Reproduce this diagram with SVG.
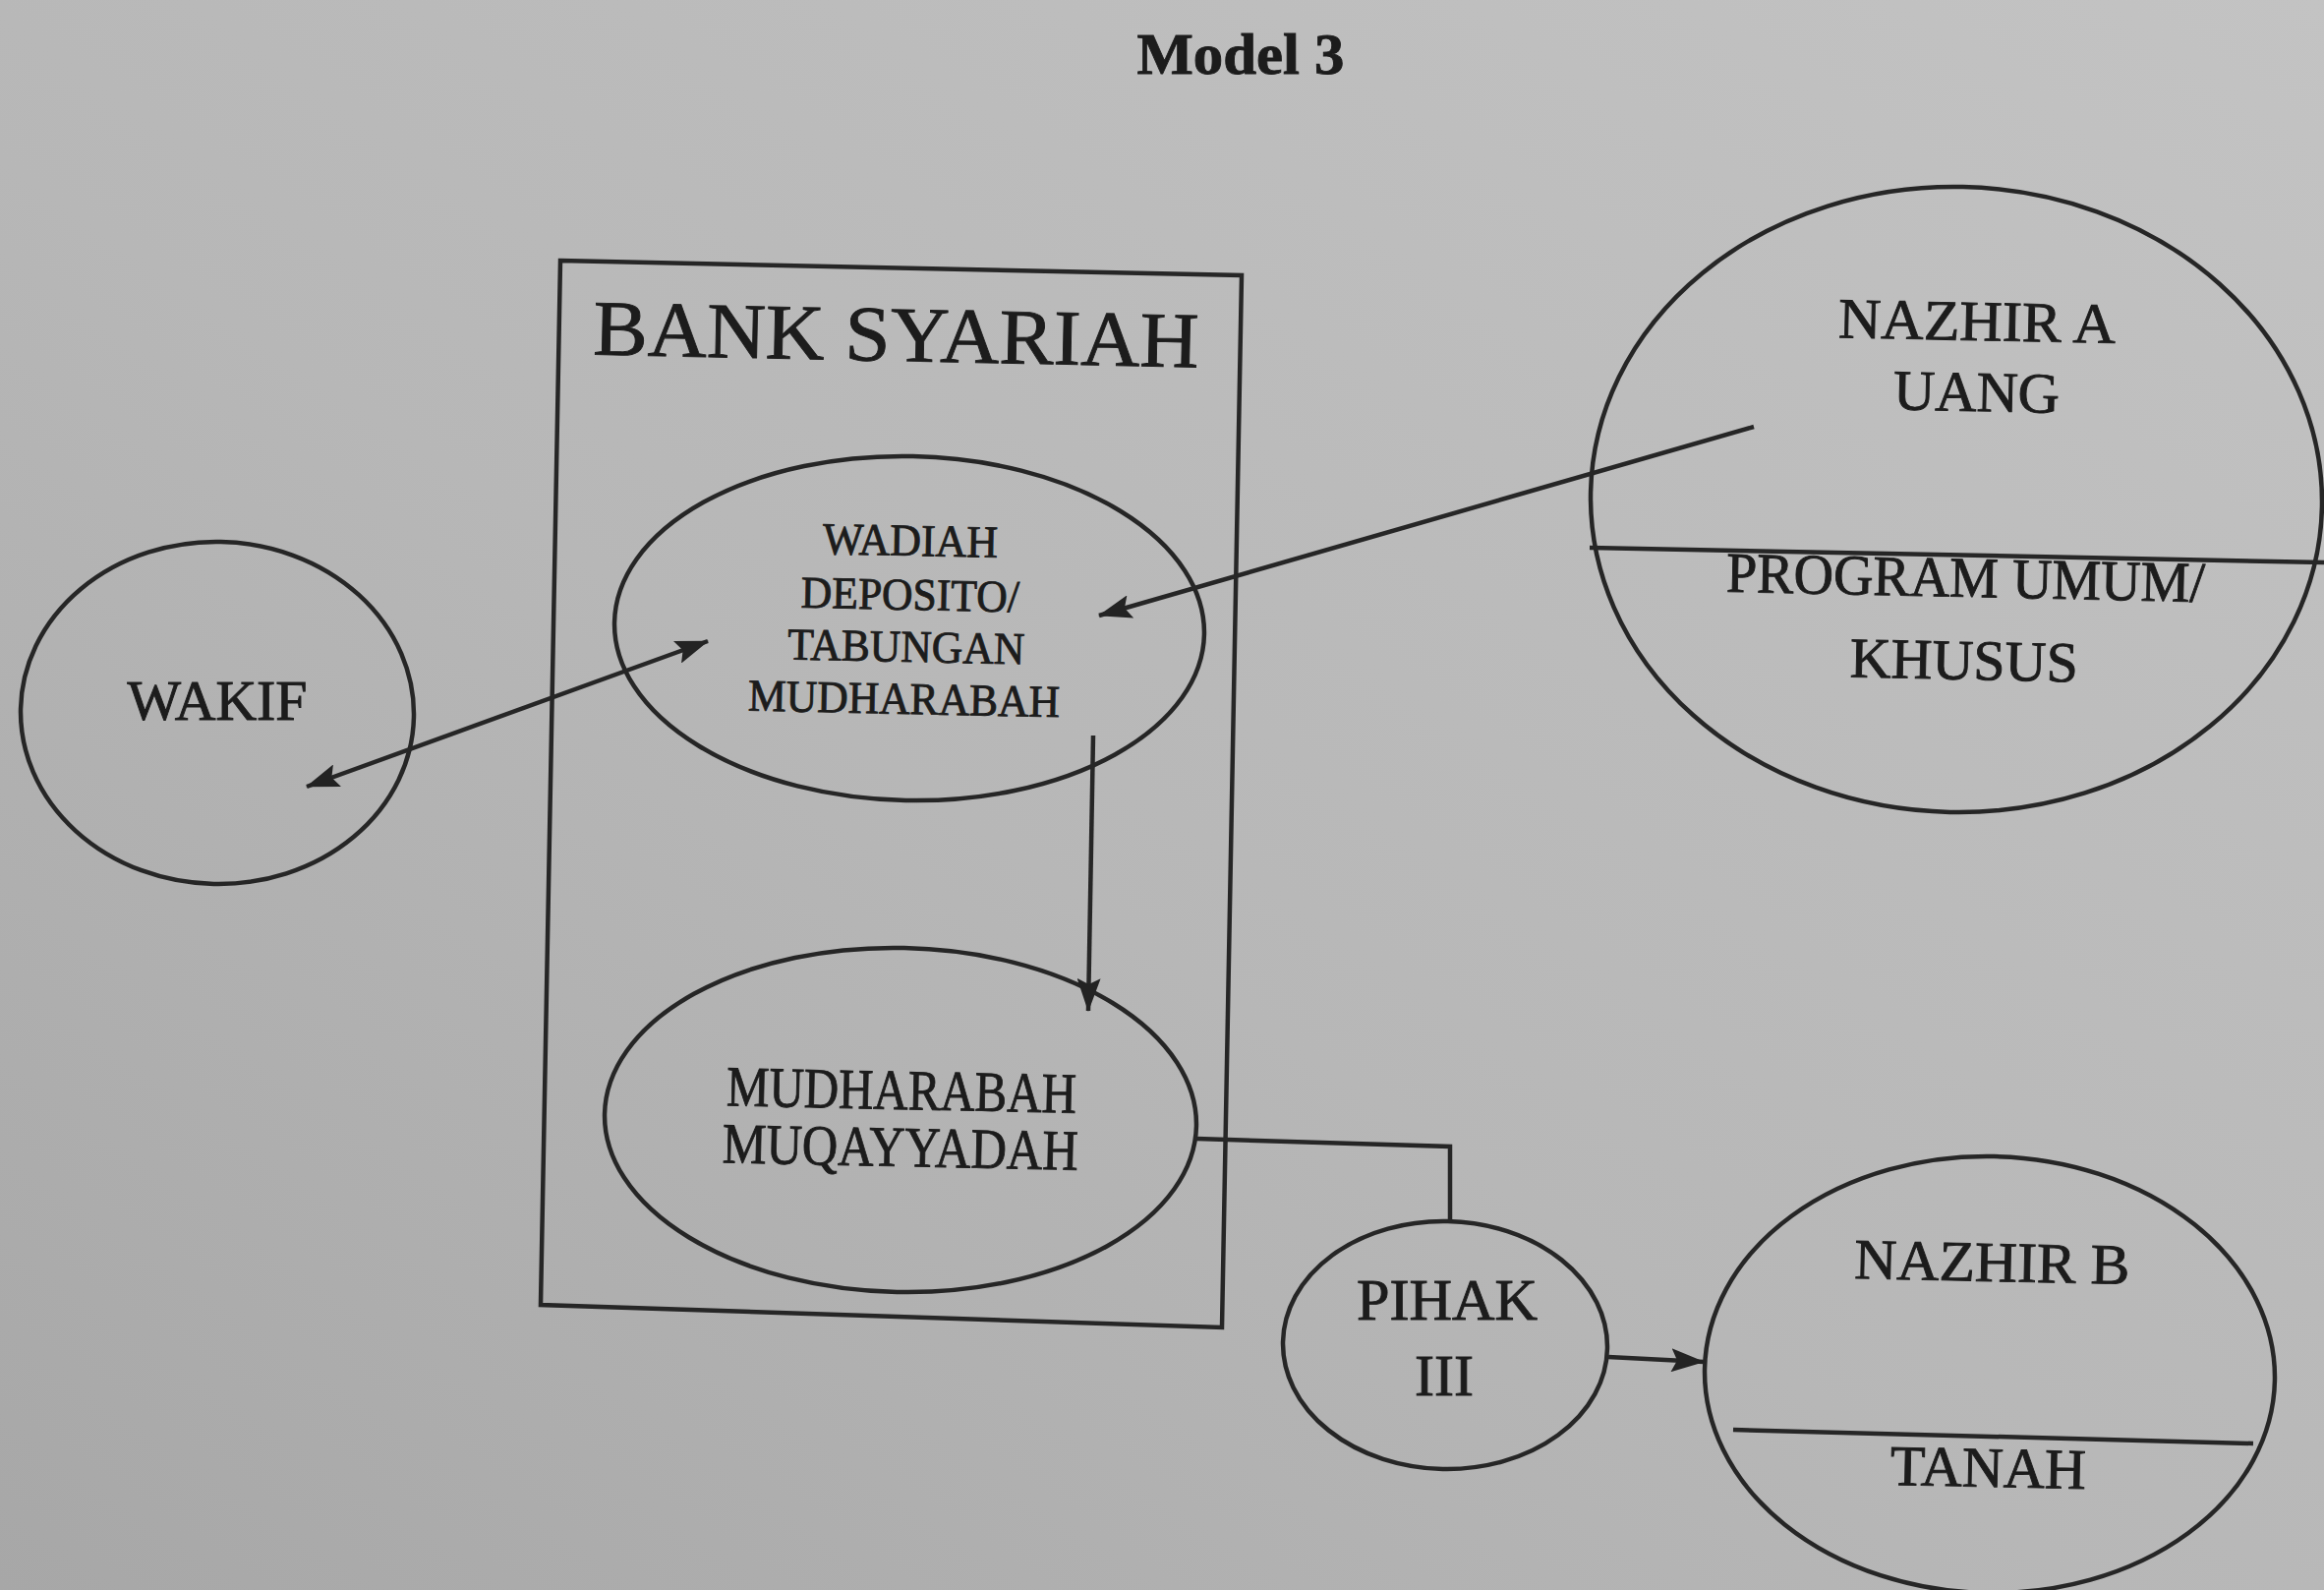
<svg xmlns="http://www.w3.org/2000/svg" width="2364" height="1617" viewBox="0 0 2364 1617">
  <defs>
    <linearGradient id="paper" x1="1" y1="0" x2="0" y2="1">
      <stop offset="0" stop-color="#c3c3c3"/>
      <stop offset="0.55" stop-color="#b7b7b7"/>
      <stop offset="1" stop-color="#a7a7a7"/>
    </linearGradient>
    <marker id="head" viewBox="0 0 34 24" refX="33" refY="12" markerWidth="34" markerHeight="24" markerUnits="userSpaceOnUse" orient="auto-start-reverse">
      <path d="M0,0 L34,12 L0,24 L6,12 z" fill="#232323"/>
    </marker>
    <style>
      .shape { fill: none; stroke: #262626; stroke-width: 4.5; }
      .wire { fill: none; stroke: #262626; stroke-width: 4.5; }
      .lbl { font-family: "Liberation Serif", "Times New Roman", serif; fill: #1c1c1c; stroke: #1c1c1c; stroke-width: 0.9; text-anchor: middle; }
    </style>
  </defs>

  <rect x="0" y="0" width="2364" height="1617" fill="url(#paper)"/>

  <text id="title" class="lbl" x="1262" y="75" font-size="60" font-weight="bold" textLength="211" lengthAdjust="spacingAndGlyphs">Model 3</text>

  <!-- bank container -->
  <g id="bank-syariah">
    <polygon class="shape" points="570,265 1263,280 1243,1350 550,1327"/>
    <text class="lbl" x="911" y="367" font-size="80" textLength="616" lengthAdjust="spacingAndGlyphs" transform="rotate(1.2 911 367)">BANK SYARIAH</text>
  </g>

  <g id="wakif">
    <ellipse class="shape" cx="221" cy="725" rx="200" ry="174" transform="rotate(1.2 221 725)"/>
    <text class="lbl" x="221" y="732" font-size="56" textLength="183" lengthAdjust="spacingAndGlyphs">WAKIF</text>
  </g>

  <g id="wadiah">
    <ellipse class="shape" cx="925" cy="639" rx="300" ry="175" transform="rotate(1.2 925 639)"/>
    <g transform="rotate(1.2 924 645)">
      <text class="lbl" x="924" y="565" font-size="46" textLength="178" lengthAdjust="spacingAndGlyphs">WADIAH</text>
      <text class="lbl" x="925" y="620" font-size="46" textLength="222" lengthAdjust="spacingAndGlyphs">DEPOSITO/</text>
      <text class="lbl" x="922" y="673" font-size="46" textLength="241" lengthAdjust="spacingAndGlyphs">TABUNGAN</text>
      <text class="lbl" x="921" y="726" font-size="46" textLength="317" lengthAdjust="spacingAndGlyphs">MUDHARABAH</text>
    </g>
  </g>

  <g id="mudharabah-muqayyadah">
    <ellipse class="shape" cx="916" cy="1139" rx="301" ry="175" transform="rotate(1.2 916 1139)"/>
    <g transform="rotate(1.2 916 1157)">
      <text class="lbl" x="916" y="1128" font-size="58" textLength="356" lengthAdjust="spacingAndGlyphs">MUDHARABAH</text>
      <text class="lbl" x="916" y="1186" font-size="58" textLength="362" lengthAdjust="spacingAndGlyphs">MUQAYYADAH</text>
    </g>
  </g>

  <g id="pihak-iii">
    <ellipse class="shape" cx="1470" cy="1368" rx="165" ry="126" transform="rotate(1.2 1470 1368)"/>
    <text class="lbl" x="1472" y="1342" font-size="60" textLength="184" lengthAdjust="spacingAndGlyphs">PIHAK</text>
    <text class="lbl" x="1469" y="1419" font-size="60" textLength="60" lengthAdjust="spacingAndGlyphs">III</text>
  </g>

  <g id="nazhir-a">
    <ellipse class="shape" cx="1990" cy="508" rx="372" ry="318" transform="rotate(1.2 1990 508)"/>
    <line class="shape" x1="1617" y1="557" x2="2364" y2="572"/>
    <g transform="rotate(1.2 2005 520)">
      <text class="lbl" x="2007" y="346" font-size="58" textLength="282" lengthAdjust="spacingAndGlyphs">NAZHIR A</text>
      <text class="lbl" x="2008" y="418" font-size="58" textLength="169" lengthAdjust="spacingAndGlyphs">UANG</text>
      <text class="lbl" x="2001" y="607" font-size="58" textLength="487" lengthAdjust="spacingAndGlyphs">PROGRAM UMUM/</text>
      <text class="lbl" x="2001" y="691" font-size="58" textLength="232" lengthAdjust="spacingAndGlyphs">KHUSUS</text>
    </g>
  </g>

  <g id="nazhir-b">
    <ellipse class="shape" cx="2024" cy="1398" rx="290" ry="222" transform="rotate(1.2 2024 1398)"/>
    <line class="shape" x1="1763" y1="1454" x2="2292" y2="1468"/>
    <text class="lbl" x="2026" y="1303" font-size="58" textLength="280" lengthAdjust="spacingAndGlyphs" transform="rotate(1.2 2026 1303)">NAZHIR B</text>
    <text class="lbl" x="2022" y="1512" font-size="58" textLength="199" lengthAdjust="spacingAndGlyphs" transform="rotate(1.2 2022 1512)">TANAH</text>
  </g>

  <!-- flows between parties -->
  <g id="connectors">
    <line class="wire" x1="312" y1="800" x2="720" y2="652" marker-start="url(#head)" marker-end="url(#head)"/>
    <line class="wire" x1="1784" y1="434" x2="1118" y2="626" marker-end="url(#head)"/>
    <line class="wire" x1="1112" y1="748" x2="1107" y2="1028" marker-end="url(#head)"/>
    <polyline class="wire" points="1217,1158 1475,1166 1475,1243"/>
    <line class="wire" x1="1636" y1="1380" x2="1733" y2="1385" marker-end="url(#head)"/>
  </g>
</svg>
